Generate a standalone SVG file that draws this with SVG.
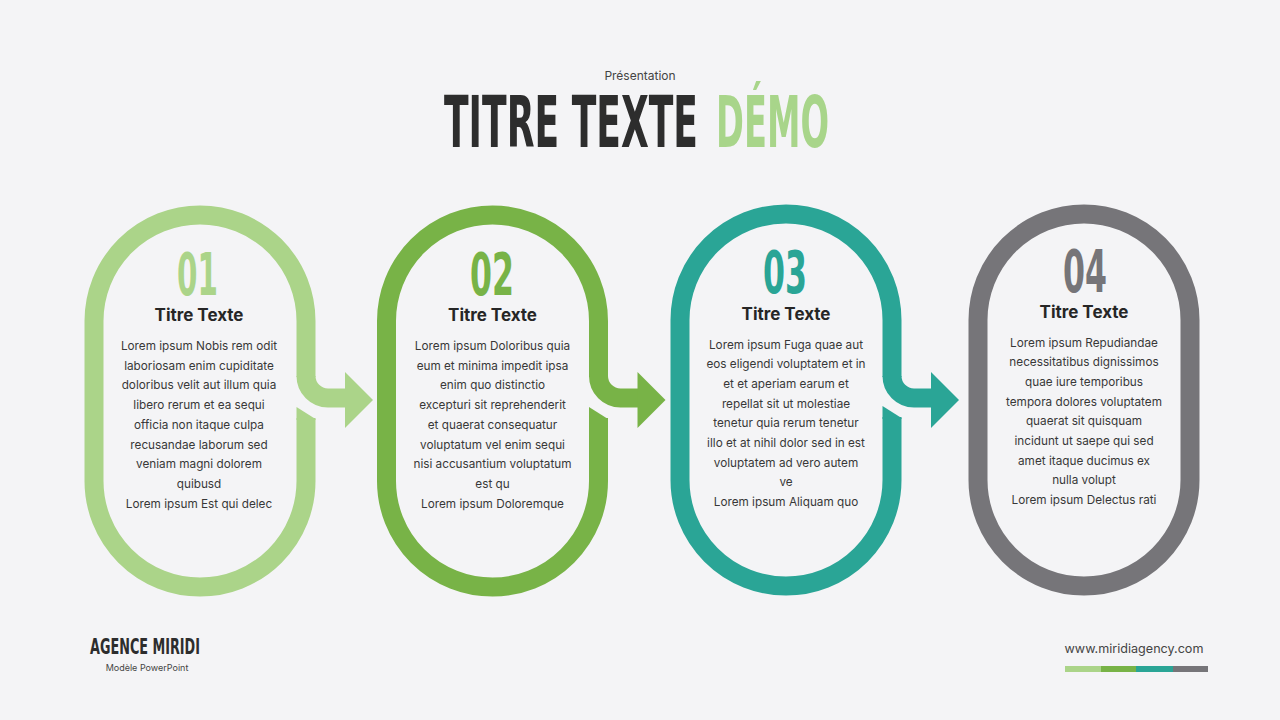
<svg xmlns="http://www.w3.org/2000/svg" width="1280" height="720" viewBox="0 0 1280 720">
<style>
.ring{fill:none;stroke-width:19;stroke-linecap:butt;stroke-linejoin:round}
.cond{font-family:"DejaVu Sans","Liberation Sans",sans-serif;font-weight:700}
.ttl{font-family:Inter,"Liberation Sans",sans-serif;font-weight:700;font-size:17px;fill:#262626;text-anchor:middle}
.body{font-family:Inter,"Liberation Sans",sans-serif;font-size:11.75px;fill:#383838;text-anchor:middle}
.c1{stroke:#abd489;fill:#abd489}
.c2{stroke:#78b347;fill:#78b347}
.c3{stroke:#2aa596;fill:#2aa596}
.c4{stroke:#767579;fill:#767579}
</style>
<rect width="1280" height="720" fill="#f4f4f6"/>

<g id="header">
<text x="640" y="80" font-family="Inter,'Liberation Sans',sans-serif" font-size="12" fill="#444" text-anchor="middle">Présentation</text>
<text class="cond" x="444" y="147" font-size="71" fill="#2d2d2d" textLength="254" lengthAdjust="spacingAndGlyphs">TITRE TEXTE</text>
<text class="cond" x="716" y="147" font-size="71" fill="#a8d58a" textLength="113" lengthAdjust="spacingAndGlyphs">DÉMO</text>
</g>

<g id="step-1">
<path class="ring c1" d="M306 418 L306 481 A106 106 0 0 1 94 481 L94 321 A106 106 0 0 1 306 321 L306 377" style="fill:none"/>
<polygon class="c1" points="296.5,407 315.5,419 315.5,420 296.5,420" style="stroke:none"/>
<text class="cond" x="177" y="295" font-size="58" fill="#abd489" textLength="41" lengthAdjust="spacingAndGlyphs">01</text>
<text class="ttl" x="199" y="321">Titre Texte</text>
<text class="body" y="350"><tspan x="199">Lorem ipsum Nobis rem odit</tspan><tspan x="199" dy="19.7">laboriosam enim cupiditate</tspan><tspan x="199" dy="19.7">doloribus velit aut illum quia</tspan><tspan x="199" dy="19.7">libero rerum et ea sequi</tspan><tspan x="199" dy="19.7">officia non itaque culpa</tspan><tspan x="199" dy="19.7">recusandae laborum sed</tspan><tspan x="199" dy="19.7">veniam magni dolorem</tspan><tspan x="199" dy="19.7">quibusd</tspan><tspan x="199" dy="19.7">Lorem ipsum Est qui delec</tspan></text>
</g>

<g id="step-2">
<path class="ring c2" d="M598.5 418 L598.5 481 A106 106 0 0 1 386.5 481 L386.5 321 A106 106 0 0 1 598.5 321 L598.5 377" style="fill:none"/>
<polygon class="c2" points="589,407 608,419 608,420 589,420" style="stroke:none"/>
<text class="cond" x="470" y="295" font-size="58" fill="#78b347" textLength="44" lengthAdjust="spacingAndGlyphs">02</text>
<text class="ttl" x="492.5" y="321">Titre Texte</text>
<text class="body" y="350"><tspan x="492.5">Lorem ipsum Doloribus quia</tspan><tspan x="492.5" dy="19.7">eum et minima impedit ipsa</tspan><tspan x="492.5" dy="19.7">enim quo distinctio</tspan><tspan x="492.5" dy="19.7">excepturi sit reprehenderit</tspan><tspan x="492.5" dy="19.7">et quaerat consequatur</tspan><tspan x="492.5" dy="19.7">voluptatum vel enim sequi</tspan><tspan x="492.5" dy="19.7">nisi accusantium voluptatum</tspan><tspan x="492.5" dy="19.7">est qu</tspan><tspan x="492.5" dy="19.7">Lorem ipsum Doloremque</tspan></text>
</g>

<g id="step-3">
<path class="ring c3" d="M892 417 L892 480 A106 106 0 0 1 680 480 L680 320 A106 106 0 0 1 892 320 L892 377" style="fill:none"/>
<polygon class="c3" points="882.5,406 901.5,418 901.5,419 882.5,419" style="stroke:none"/>
<text class="cond" x="763" y="293" font-size="58" fill="#2aa596" textLength="44" lengthAdjust="spacingAndGlyphs">03</text>
<text class="ttl" x="786" y="320">Titre Texte</text>
<text class="body" y="348.5"><tspan x="786">Lorem ipsum Fuga quae aut</tspan><tspan x="786" dy="19.7">eos eligendi voluptatem et in</tspan><tspan x="786" dy="19.7">et et aperiam earum et</tspan><tspan x="786" dy="19.7">repellat sit ut molestiae</tspan><tspan x="786" dy="19.7">tenetur quia rerum tenetur</tspan><tspan x="786" dy="19.7">illo et at nihil dolor sed in est</tspan><tspan x="786" dy="19.7">voluptatem ad vero autem</tspan><tspan x="786" dy="19.7">ve</tspan><tspan x="786" dy="19.7">Lorem ipsum Aliquam quo</tspan></text>
</g>

<g id="step-4">
<rect class="ring c4" x="978" y="214" width="212" height="372" rx="106" ry="106" style="fill:none"/>
<text class="cond" x="1063" y="292" font-size="58" fill="#767579" textLength="44" lengthAdjust="spacingAndGlyphs">04</text>
<text class="ttl" x="1084" y="318">Titre Texte</text>
<text class="body" y="346.5"><tspan x="1084">Lorem ipsum Repudiandae</tspan><tspan x="1084" dy="19.7">necessitatibus dignissimos</tspan><tspan x="1084" dy="19.7">quae iure temporibus</tspan><tspan x="1084" dy="19.7">tempora dolores voluptatem</tspan><tspan x="1084" dy="19.7">quaerat sit quisquam</tspan><tspan x="1084" dy="19.7">incidunt ut saepe qui sed</tspan><tspan x="1084" dy="19.7">amet itaque ducimus ex</tspan><tspan x="1084" dy="19.7">nulla volupt</tspan><tspan x="1084" dy="19.7">Lorem ipsum Delectus rati</tspan></text>
</g>

<g id="connectors">
<path class="ring c1" d="M306 376 A22 22 0 0 0 328 398 L347 398" style="fill:none"/>
<polygon class="c1" points="345,372 373,400 345,428" style="stroke:none"/>
<path class="ring c2" d="M598.5 376 A22 22 0 0 0 620.5 398 L639.5 398" style="fill:none"/>
<polygon class="c2" points="637.5,372 665.5,400 637.5,428" style="stroke:none"/>
<path class="ring c3" d="M892 376 A22 22 0 0 0 914 398 L933 398" style="fill:none"/>
<polygon class="c3" points="931,372 959,400 931,428" style="stroke:none"/>
</g>

<g id="footer">
<text class="cond" x="90" y="654" font-size="21" fill="#2d2d2d" textLength="110" lengthAdjust="spacingAndGlyphs">AGENCE MIRIDI</text>
<text x="147" y="671" font-family="Inter,'Liberation Sans',sans-serif" font-size="9" fill="#444" text-anchor="middle">Modèle PowerPoint</text>
<text x="1134" y="653" font-family="Inter,'Liberation Sans',sans-serif" font-size="12.6" fill="#444" text-anchor="middle">www.miridiagency.com</text>
<rect x="1065" y="666" width="36" height="6" fill="#abd489"/>
<rect x="1101" y="666" width="35" height="6" fill="#78b347"/>
<rect x="1136" y="666" width="37" height="6" fill="#2aa596"/>
<rect x="1173" y="666" width="35" height="6" fill="#767579"/>
</g>
</svg>
